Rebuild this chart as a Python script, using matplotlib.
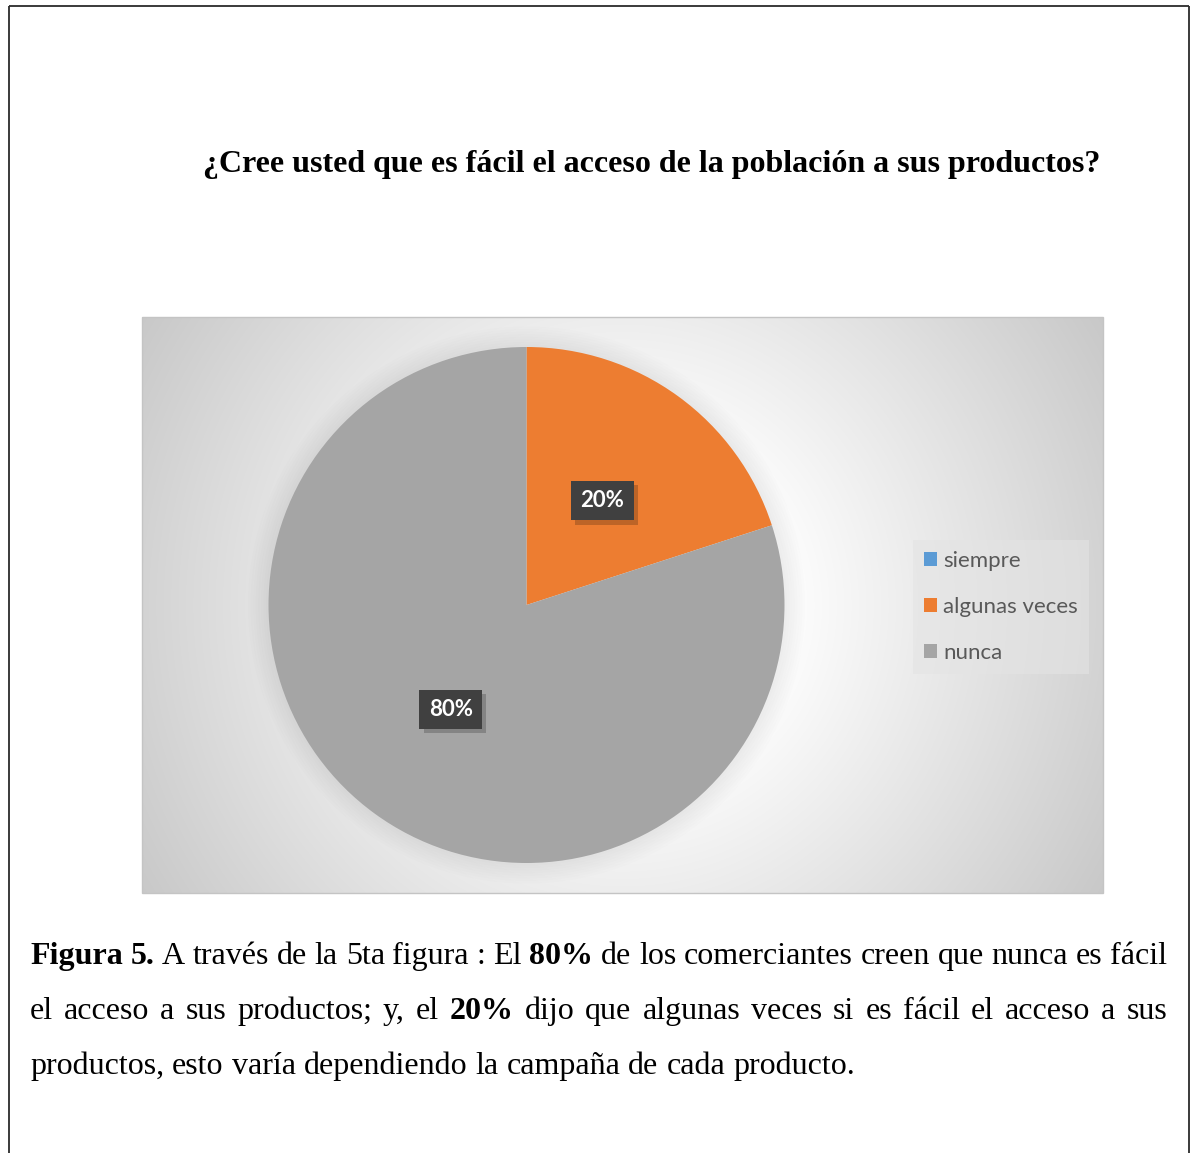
import numpy as np
import matplotlib
matplotlib.use("Agg")
import matplotlib.pyplot as plt
from matplotlib.patches import Rectangle, Circle
import matplotlib.patheffects as pe

# ---------------- data ----------------
categories = ["siempre", "algunas veces", "nunca"]
values = [0, 20, 80]
colors = ["#5B9BD5", "#ED7D31", "#A5A5A5"]

title = "¿Cree usted que es fácil el acceso de la población a sus productos?"
caption_lines = [
    [("Figura 5.", True), ("A través de la 5ta figura : El", False), ("80%", True),
     ("de los comerciantes creen que nunca es fácil", False)],
    [("el acceso a sus productos; y, el", False), ("20%", True),
     ("dijo que algunas veces si es fácil el acceso a sus", False)],
    [("productos, esto varía dependiendo la campaña de cada producto.", False)],
]
caption_justify = [True, True, False]

# ---------------- figure ----------------
W, H = 1197, 1153
DPI = 100
fig = plt.figure(figsize=(W / DPI, H / DPI), dpi=DPI)
fig.patch.set_facecolor("white")

ax = fig.add_axes([0, 0, 1, 1])
ax.set_xlim(0, W)
ax.set_ylim(H, 0)
ax.axis("off")

# outer page border
bc = "#2b2b2b"
ax.plot([8.5, 8.5], [5.5, H + 5], color=bc, lw=1.3, solid_capstyle="butt")
ax.plot([8.5, 1188.5], [5.5, 5.5], color=bc, lw=1.3, solid_capstyle="butt")
ax.plot([1188.5, 1188.5], [5.5, H + 5], color=bc, lw=1.3, solid_capstyle="butt")

# chart area with radial gradient
cx0, cx1, cy0, cy1 = 142, 1103, 317, 893
gw, gh = cx1 - cx0, cy1 - cy0
yy, xx = np.mgrid[0:gh, 0:gw]
d = np.sqrt((xx - 480) ** 2 + (yy - 288) ** 2)
v = (255 - 0.135 * np.clip(d - 155, 0, None)) / 255.0
img = np.dstack([v, v, v])
ax.imshow(img, extent=(cx0, cx1, cy1, cy0), interpolation="bilinear", zorder=1, aspect="auto")
ax.add_patch(Rectangle((cx0, cy0), gw, gh, fill=False, edgecolor="#C4C4C4", lw=1.0, zorder=2))

# title
ax.text(203, 172, title, fontsize=23, fontweight="bold", family="Liberation Serif",
        ha="left", va="baseline", color="black", zorder=5)

# ---------------- pie ----------------
R = 258.0
pcx, pcy = 526.5, 605.0
ext = 1.2
half = ext * R
pax = fig.add_axes([(pcx - half) / W, (H - pcy - half) / H, 2 * half / W, 2 * half / H])
pax.set_zorder(3)
pax.patch.set_alpha(0)

for i in range(8):
    pax.add_patch(Circle((0, 0), 1 + 0.01 * (i + 1), color="black", alpha=0.008, lw=0, zorder=0))

def fmt(p):
    return f"{p:.0f}%" if p > 0.5 else ""

wedges, texts, autotexts = pax.pie(values, colors=colors, startangle=90, counterclock=False,
                                   autopct=fmt, pctdistance=0.5, radius=1.0,
                                   wedgeprops=dict(linewidth=0))
pax.set_xlim(-ext, ext)
pax.set_ylim(-ext, ext)
pax.set_aspect("equal")
pax.axis("off")

for t in autotexts:
    t.set_color("white")
    t.set_fontsize(16)
    t.set_fontweight("bold")
    t.set_family("Lato")
    t.set_bbox(dict(boxstyle="square,pad=0.42", facecolor="#404040", edgecolor="none"))
    bp = t.get_bbox_patch()
    bp.set_path_effects([pe.SimplePatchShadow(offset=(3, -3), shadow_rgbFace="black", alpha=0.2),
                         pe.Normal()])

# ---------------- legend ----------------
fs_leg = 16
leg = fig.legend(wedges, categories, loc="upper left",
                 bbox_to_anchor=(913 / W, 1 - 540 / H), bbox_transform=fig.transFigure,
                 borderaxespad=0, prop=dict(family="Lato", size=fs_leg),
                 frameon=True, fancybox=False, facecolor="#E4E4E4", edgecolor="none",
                 framealpha=0.6, handlelength=0.59, handleheight=0.59,
                 handletextpad=0.27, labelspacing=1.16, borderpad=0.5)
for txt in leg.get_texts():
    txt.set_color("#595959")

# ---------------- caption (justified, mixed bold) ----------------
fs_cap = 23
fam_cap = "Liberation Serif"
renderer = fig.canvas.get_renderer()

def width_of(s, bold):
    t = ax.text(0, 0, s, fontsize=fs_cap, family=fam_cap,
                fontweight="bold" if bold else "normal")
    w = t.get_window_extent(renderer).width
    t.remove()
    return w

space_w = width_of("a a", False) - width_of("aa", False)
x_left, x_right = 30, 1167
baselines = [964, 1019, 1074]
for line, just, yb in zip(caption_lines, caption_justify, baselines):
    words = []
    for seg, b in line:
        for w in seg.split(" "):
            words.append((w, b))
    widths = [width_of(w, b) for w, b in words]
    if just and len(words) > 1:
        gap = (x_right - x_left - sum(widths)) / (len(words) - 1)
    else:
        gap = space_w
    x = x_left
    for (w, b), wd in zip(words, widths):
        ax.text(x, yb, w, fontsize=fs_cap, family=fam_cap,
                fontweight="bold" if b else "normal", ha="left", va="baseline",
                color="black", zorder=5)
        x += wd + gap

fig.savefig("out.png", dpi=DPI)
